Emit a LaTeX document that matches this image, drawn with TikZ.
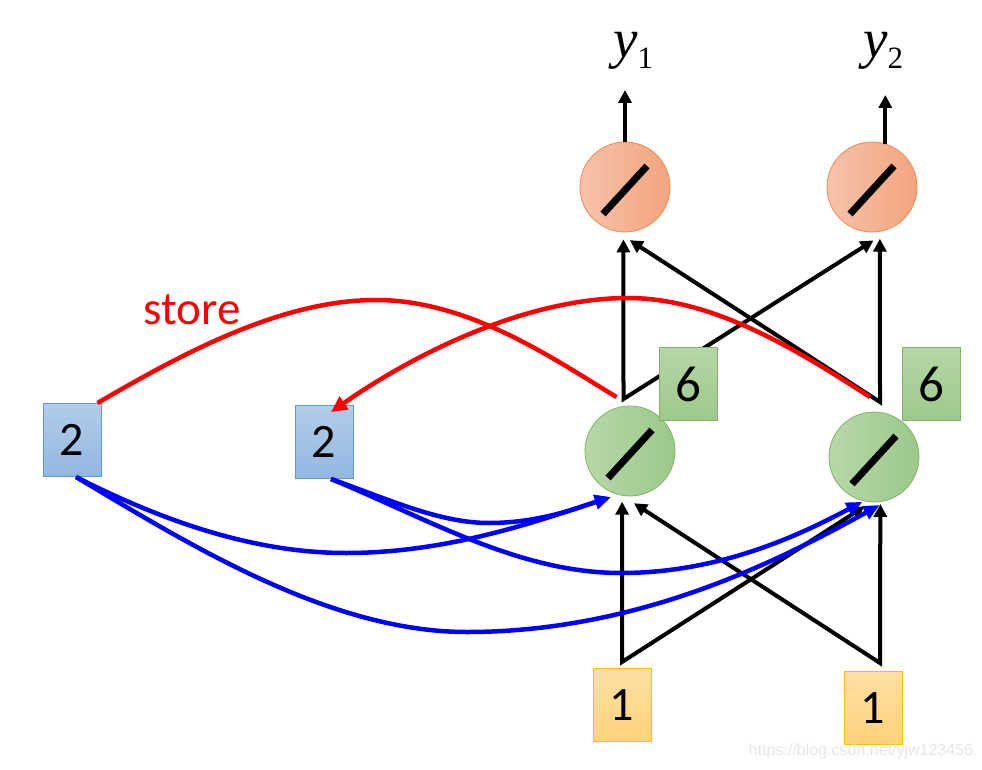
\documentclass[tikz,border=0pt]{standalone}
\usepackage{fontspec}
\usetikzlibrary{arrows.meta}
\newfontfamily\carl{Carlito}
\newfontfamily\tnr{Liberation Serif}
\newfontfamily\ars{Liberation Sans}
\definecolor{orL}{HTML}{F6C3AA}
\definecolor{orR}{HTML}{F4A47F}
\definecolor{orD}{HTML}{EE8A50}
\definecolor{gnL}{HTML}{B8D7A8}
\definecolor{gnR}{HTML}{9BC98A}
\definecolor{gnD}{HTML}{82B366}
\definecolor{gsT}{HTML}{B6D6A6}
\definecolor{gsB}{HTML}{9DC98B}
\definecolor{bsT}{HTML}{B2CCE9}
\definecolor{bsB}{HTML}{93B7E1}
\definecolor{bsD}{HTML}{5B9BD5}
\definecolor{ysT}{HTML}{FFE0A3}
\definecolor{ysB}{HTML}{FFD27C}
\definecolor{ysD}{HTML}{FFC000}
\definecolor{wmk}{HTML}{E6E6E6}
\begin{document}
\begin{tikzpicture}[x=1pt,y=-1pt,
  neuO/.style={circle,minimum size=90pt,inner sep=0pt,draw=orD,line width=0.8pt,left color=orL,right color=orR},
  neuG/.style={circle,minimum size=90pt,inner sep=0pt,draw=gnD,line width=0.8pt,left color=gnL,right color=gnR},
  numbox/.style={rectangle,minimum width=58pt,minimum height=73pt,inner sep=0pt,line width=0.9pt,font=\carl\fontsize{48}{48}\selectfont},
  bluebox/.style={numbox,draw=bsD,top color=bsT,bottom color=bsB},
  yelbox/.style={numbox,draw=ysD,top color=ysT,bottom color=ysB},
  grnbox/.style={numbox,draw=gnD,top color=gsT,bottom color=gsB,font=\carl\fontsize{51}{51}\selectfont},
  slash/.style={line width=7pt},
  blk/.style={line width=4pt,line join=miter,{Triangle[length=13pt,width=13pt]}-{Triangle[length=13pt,width=13pt]}},
  blkup/.style={line width=4pt,-{Triangle[length=13pt,width=13pt]}},
  redln/.style={line width=4.5pt,draw=red},
  redarr/.style={redln,-{Triangle[length=16pt,width=15pt]}},
  bluln/.style={line width=4.5pt,draw=blue,-{Triangle[length=16pt,width=14pt]}}
]
\useasboundingbox (0,0) rectangle (982,770);

% neurons
\node[neuO] (o1) at (625,187) {};
\node[neuO] (o2) at (872,187) {};
\node[neuG] (g1) at (630,451) {};
\node[neuG] (g2) at (874,457) {};
\foreach \n in {o1,o2,g1,g2}{
  \draw[slash] (\n.center) +(-22,27) -- +(22,-21);
}

% input / memory boxes
\node[bluebox] (m1) at (72,440) {2};
\node[bluebox] (m2) at (324,442) {2};
\node[yelbox] (x1) at (622,705) {1};
\node[yelbox] (x2) at (873,708) {1};

% labels
\node[anchor=base west,inner sep=0pt] (y1) at (613,58)
  {\tnr\fontsize{55}{55}\selectfont\itshape y\upshape\fontsize{31}{31}\selectfont\raisebox{-11pt}{1}};
\node[anchor=base west,inner sep=0pt] (y2) at (863,58)
  {\tnr\fontsize{55}{55}\selectfont\itshape y\upshape\fontsize{31}{31}\selectfont\raisebox{-11pt}{2}};
\node[text=red,font=\carl\fontsize{47}{47}\selectfont,inner sep=0pt] (st) at (192,310) {store};
\node[text=wmk,font=\ars\fontsize{16}{16}\selectfont,inner sep=0pt] (wm) at (861,751) {https://blog.csdn.net/yjw123456};

% junction points
\coordinate (v1) at (622,662);
\coordinate (v2) at (880,663);
\coordinate (u1) at (623.5,399);
\coordinate (u2) at (880,402);
\coordinate (t1) at (625,90);
\coordinate (t2) at (885,95);

% output arrows
\draw[blkup] (o1.north) -- (t1);
\draw[blkup] (o2.73) -- (o2.73 |- t2);

% black connections
\draw[blk] ([yshift=-6pt]g1.260) -- (v1) -- ([yshift=-5pt]g2.258);
\draw[blk] ([yshift=-2pt]g2.278) -- (v2) -- ([yshift=-7pt]g1.275);
\draw[blk] ([yshift=-7pt]o1.268) -- (u1) -- ([yshift=-8pt]o2.272);
\draw[blk] ([yshift=-7pt]o2.280) -- (u2) -- ([yshift=-8pt]o1.276);

% red store arrows
\draw[redln] ([xshift=-4pt]m1.north east) .. controls (180,355) and (280,300) .. (376,300)
   .. controls (470,300) and (555,360) .. ([xshift=-7pt,yshift=2pt]u1);
\draw[redarr] ([xshift=-10pt,yshift=5pt]u2) .. controls (800,352) and (715,298) .. (628,298)
   .. controls (530,298) and (420,350) .. ([xshift=7pt,yshift=-7pt]m2.north);

% blue memory arrows
\draw[bluln] ([xshift=4pt]m1.south) .. controls (170,525) and (260,553) .. (346,553)
   .. controls (450,553) and (540,520) .. ([yshift=-5pt]g1.245);
\draw[bluln] ([xshift=4pt]m1.south) .. controls (190,545) and (330,632) .. (467,632)
   .. controls (640,632) and (780,560) .. ([yshift=-3pt]g2.277);
\draw[bluln] ([xshift=7pt]m2.south) .. controls (390,500) and (440,523) .. (489,523)
   .. controls (540,523) and (580,507) .. ([yshift=-5pt]g1.245);
\draw[bluln] ([xshift=7pt]m2.south) .. controls (430,520) and (520,573) .. (621,573)
   .. controls (720,573) and (800,535) .. ([yshift=-1pt]g2.255);

% hidden-state boxes on top
\node[grnbox] (h1) at (688,384) {6};
\node[grnbox] (h2) at (931,384) {6};
\end{tikzpicture}
\end{document}
